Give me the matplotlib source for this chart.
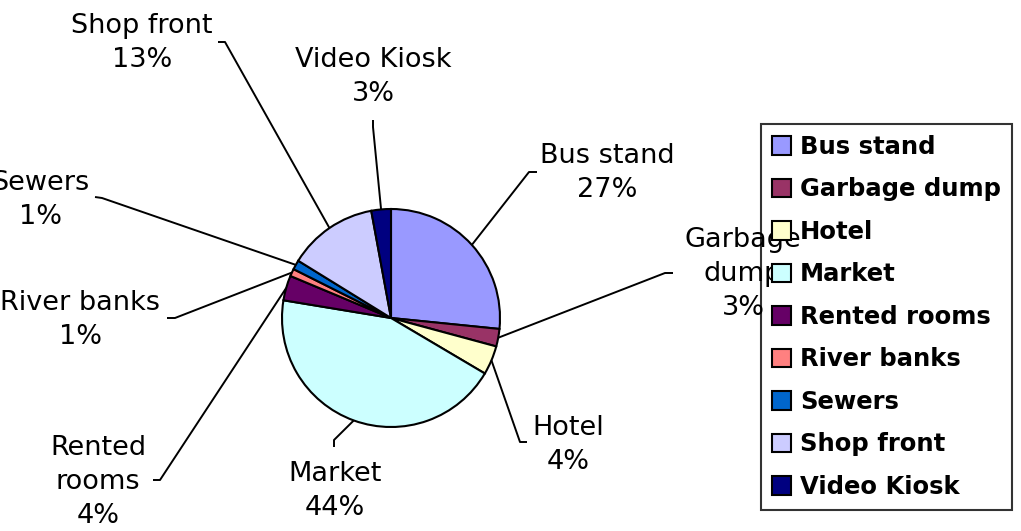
import numpy as np
import matplotlib
matplotlib.use("Agg")
import matplotlib.pyplot as plt

# --- datos ---
places = ["Bus stand", "Garbage dump", "Hotel", "Market", "Rented rooms",
          "River banks", "Sewers", "Shop front", "Video Kiosk"]
shares = [26.6, 2.6, 4.3, 44.1, 3.7, 1.1, 1.4, 13.3, 2.9]
colors = ["#9999FF", "#993366", "#FFFFCC", "#CCFFFF", "#660066",
          "#FF8080", "#0066CC", "#CCCCFF", "#000080"]
label_names = ["Bus stand", "Garbage\ndump", "Hotel", "Market", "Rented\nrooms",
               "River banks", "Sewers", "Shop front", "Video Kiosk"]

# --- layout (pixels de la imagen) ---
W, H = 1021, 531
CX, CY, R = 391, 318, 109
# centro del texto, inicio del conector, codo del conector
label_pos = {
    "Bus stand":    ((607, 173), (537, 172), (529, 172)),
    "Garbage dump": ((743, 274), (673, 273), (665, 273)),
    "Hotel":        ((568, 445), (527, 442), (520, 442)),
    "Market":       ((335, 491), (334, 447), (334, 440)),
    "Rented rooms": ((98, 482), (153, 480), (160, 480)),
    "River banks":  ((80, 320), (167, 318), (175, 318)),
    "Sewers":       ((40, 200), (95, 197), (102, 198)),
    "Shop front":   ((142, 43), (218, 42), (225, 42)),
    "Video Kiosk":  ((373, 77), (373, 120), (373, 127)),
}


def px(x, y):
    return (x - CX) / R, (CY - y) / R


fig = plt.figure(figsize=(W / 100, H / 100), dpi=100)
ax = fig.add_axes([(CX - R) / W, (H - CY - R) / H, 2 * R / W, 2 * R / H])

wedges, _ = ax.pie(shares, colors=colors, startangle=90, counterclock=False,
                   wedgeprops=dict(edgecolor="black", linewidth=1.5))
ax.set_xlim(-1, 1)
ax.set_ylim(-1, 1)
ax.set_aspect("equal")
ax.axis("off")

total = sum(shares)
for w, name, lname, v in zip(wedges, places, label_names, shares):
    (tx, ty), (sx, sy), (bx, by) = label_pos[name]
    mid = np.deg2rad((w.theta1 + w.theta2) / 2)
    ex, ey = np.cos(mid), np.sin(mid)
    p0, p1 = px(sx, sy), px(bx, by)
    ax.plot([p0[0], p1[0], ex], [p0[1], p1[1], ey], color="black", lw=1.4,
            clip_on=False, solid_capstyle="butt")
    x, y = px(tx, ty)
    ax.text(x, y, f"{lname}\n{v / total * 100:.0f}%", ha="center", va="center",
            fontsize=19.5, family="DejaVu Sans", linespacing=1.4, clip_on=False)

leg = fig.legend(wedges, places, loc="upper left",
                 bbox_to_anchor=(761 / W, 1 - 124 / H),
                 prop=dict(family="DejaVu Sans", weight="bold", size=17.5),
                 frameon=True, fancybox=False, edgecolor="black",
                 facecolor="none", framealpha=None,
                 handlelength=0.8, handleheight=0.8, handletextpad=0.35,
                 labelspacing=0.76, borderpad=0.45, borderaxespad=0)
leg.get_frame().set_linewidth(1.5)

fig.savefig("out.png", dpi=100)
